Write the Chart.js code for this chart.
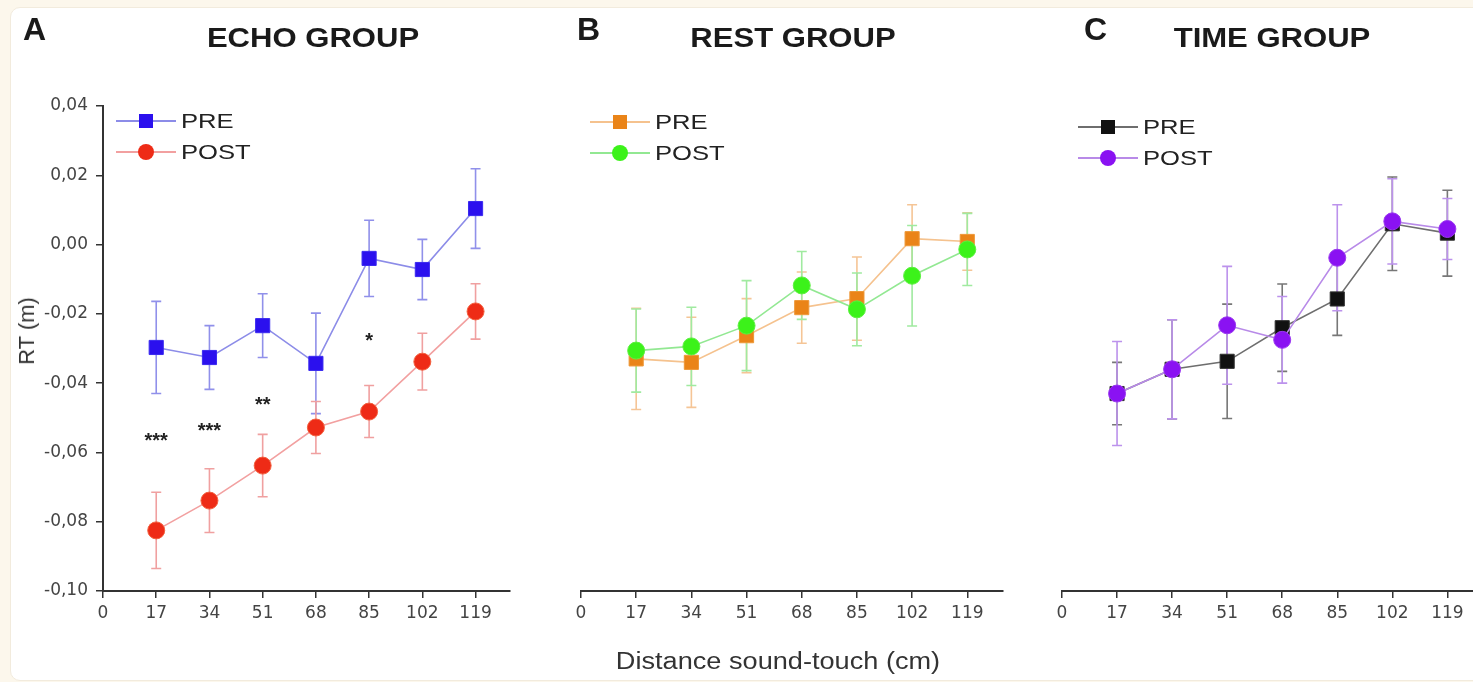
<!DOCTYPE html>
<html>
<head>
<meta charset="utf-8">
<script src="https://cdn.jsdelivr.net/npm/chart.js@4.4.1/dist/chart.umd.min.js"></script>
<style>
  html,body{margin:0;padding:0;width:1473px;height:682px;overflow:hidden;background:#fcf7ec;}
  #panel{position:absolute;left:10px;top:7px;width:1480px;height:672px;background:#fff;border:1px solid #f2ebdd;border-radius:10px;}
  canvas{position:absolute;top:0;}
  .txt{position:absolute;font-family:"Liberation Sans",Arial,sans-serif;color:#1a1a1a;white-space:nowrap;}
  .letter{font-weight:bold;font-size:32px;transform:translateY(-50%);}
  .title{font-weight:bold;font-size:27px;transform:translate(-50%,-50%) scaleX(1.15);}
  .xtitle{font-size:23px;color:#333;transform:translate(-50%,-50%) scaleX(1.18);}
  .ytitle{font-size:22px;color:#333;transform:translate(-50%,-50%) rotate(-90deg);}
  .leg{position:absolute;height:24px;}
  .leg .ln{position:absolute;left:0;width:60px;top:11px;height:1.5px;}
  .leg .mk{position:absolute;}
  .leg .lt{position:absolute;left:65px;top:50%;transform:translateY(-50%) scaleX(1.22);transform-origin:left center;font-family:"Liberation Sans",Arial,sans-serif;font-size:21px;color:#222;}
</style>
</head>
<body>
<div id="panel"></div>
<canvas id="cA" width="540" height="682" style="left:0px"></canvas>
<canvas id="cB" width="480" height="682" style="left:540px"></canvas>
<canvas id="cC" width="480" height="682" style="left:1020px"></canvas>

<div class="txt letter" style="left:23px;top:29px">A</div>
<div class="txt title" style="left:313px;top:38px">ECHO GROUP</div>
<div class="txt letter" style="left:577px;top:29px">B</div>
<div class="txt title" style="left:793px;top:38px">REST GROUP</div>
<div class="txt letter" style="left:1084px;top:29px">C</div>
<div class="txt title" style="left:1272px;top:38px">TIME GROUP</div>
<div class="txt ytitle" style="left:27px;top:331px">RT (m)</div>
<div class="txt xtitle" style="left:778px;top:661px">Distance sound-touch (cm)</div>
<div id="legends"></div>

<script>
// ---------- DATA ----------
const distances = [17, 34, 51, 68, 85, 102, 119];
const xTickStep = 17;
const seriesNames = ['PRE', 'POST'];

const echoPre      = [-0.0297, -0.0326, -0.0234, -0.0343, -0.0040, -0.0072, 0.0104];
const echoPreErr   = [0.0133, 0.0092, 0.0092, 0.0145, 0.0110, 0.0087, 0.0115];
const echoPost     = [-0.0825, -0.0739, -0.0638, -0.0528, -0.0482, -0.0338, -0.0193];
const echoPostErr  = [0.0110, 0.0092, 0.0090, 0.0075, 0.0075, 0.0082, 0.0080];

const restPre      = [-0.0330, -0.0340, -0.0263, -0.0182, -0.0156, 0.0017, 0.0009];
const restPreErr   = [0.0146, 0.0130, 0.0107, 0.0103, 0.0120, 0.0098, 0.0083];
const restPost     = [-0.0306, -0.0294, -0.0234, -0.0118, -0.0187, -0.0090, -0.0014];
const restPostErr  = [0.0120, 0.0113, 0.0130, 0.0098, 0.0105, 0.0145, 0.0104];

const timePre      = [-0.0430, -0.0360, -0.0337, -0.0240, -0.0157, 0.0060, 0.0033];
const timePreErr   = [0.0090, 0.0143, 0.0165, 0.0126, 0.0105, 0.0135, 0.0124];
const timePost     = [-0.0430, -0.0360, -0.0233, -0.0275, -0.0038, 0.0067, 0.0045];
const timePostErr  = [0.0150, 0.0143, 0.0170, 0.0125, 0.0153, 0.0123, 0.0088];

const echoStarX    = [17, 34, 51, 85];
const echoStarY    = [-0.0551, -0.0520, -0.0447, -0.0260];
const echoStarText = ['***', '***', '**', '*'];

const yMin = -0.10, yMax = 0.04, yStep = 0.02;
const xMin = 0, xMax = 130;

// ---------- HELPERS ----------
const pts = (vals) => distances.map((x, i) => ({x: x, y: vals[i]}));

const errorBars = {
  id: 'errorBars',
  beforeDatasetsDraw(chart) {
    const ctx = chart.ctx, xs = chart.scales.x, ys = chart.scales.y;
    chart.data.datasets.forEach(ds => {
      ctx.save();
      ctx.strokeStyle = ds.errColor;
      ctx.lineWidth = 1.6;
      ds.data.forEach((p, i) => {
        const e = ds.errors[i];
        const x = xs.getPixelForValue(p.x);
        const y1 = ys.getPixelForValue(p.y + e), y2 = ys.getPixelForValue(p.y - e);
        ctx.beginPath();
        ctx.moveTo(x, y1); ctx.lineTo(x, y2);
        ctx.moveTo(x - 5, y1); ctx.lineTo(x + 5, y1);
        ctx.moveTo(x - 5, y2); ctx.lineTo(x + 5, y2);
        ctx.stroke();
      });
      ctx.restore();
    });
  }
};

const starsPlugin = {
  id: 'stars',
  afterDatasetsDraw(chart, args, opts) {
    if (!opts || !opts.xs) return;
    const ctx = chart.ctx, xs = chart.scales.x, ys = chart.scales.y;
    ctx.save();
    ctx.fillStyle = '#222';
    ctx.font = 'bold 20px "Liberation Sans", Arial, sans-serif';
    ctx.textAlign = 'center';
    ctx.textBaseline = 'alphabetic';
    opts.xs.forEach((xv, i) => {
      ctx.fillText(opts.texts[i], xs.getPixelForValue(xv), ys.getPixelForValue(opts.ys[i]) + 12);
    });
    ctx.restore();
  }
};

function ds(label, vals, errs, style, order) {
  return {
    label: label,
    data: pts(vals),
    errors: errs,
    errColor: style.err,
    showLine: true,
    borderColor: style.line,
    borderWidth: 1.6,
    pointStyle: style.shape,
    pointRadius: style.shape === 'rect' ? 10 : 8.5,
    pointHoverRadius: style.shape === 'rect' ? 10 : 8.5,
    pointBackgroundColor: style.fill,
    pointBorderColor: style.edge,
    pointBorderWidth: 1,
    tension: 0,
    order: order
  };
}

function makeChart(id, datasets, padLeft, padRight, showY, stars) {
  return new Chart(document.getElementById(id), {
    type: 'scatter',
    data: { datasets: datasets },
    plugins: [errorBars, starsPlugin],
    options: {
      responsive: false,
      animation: false,
      layout: { padding: { left: padLeft, right: padRight, top: 106, bottom: 0 } },
      plugins: { legend: { display: false }, tooltip: { enabled: false }, stars: stars || {} },
      scales: {
        x: {
          type: 'linear', min: xMin, max: xMax,
          afterFit: s => { s.height = 91; },
          ticks: {
            stepSize: xTickStep, includeBounds: false, autoSkip: false, maxRotation: 0, padding: 5,
            color: '#444', font: { family: '"DejaVu Sans", sans-serif', size: 17 }
          },
          grid: { display: true, drawOnChartArea: false, drawTicks: true, tickLength: 7, color: '#333', lineWidth: 1.5 },
          border: { display: true, color: '#333', width: 2 }
        },
        y: {
          type: 'linear', min: yMin, max: yMax, display: showY,
          afterFit: s => { s.width = showY ? 103 : 0; },
          ticks: {
            stepSize: yStep, padding: 8, color: '#444',
            font: { family: '"DejaVu Sans", sans-serif', size: 17 },
            callback: v => (Math.abs(v) < 1e-9 ? '0,00' : v.toFixed(2).replace('.', ','))
          },
          grid: { display: true, drawOnChartArea: false, drawTicks: true, tickLength: 7, color: '#333', lineWidth: 1.5 },
          border: { display: true, color: '#333', width: 2 }
        }
      }
    }
  });
}

// ---------- STYLES ----------
const S = {
  echoPre:  { shape: 'rect',   fill: '#2b10ee', edge: '#3a2af0', line: '#8c8ce8', err: '#9090ea' },
  echoPost: { shape: 'circle', fill: '#ee2b16', edge: '#f2603f', line: '#f2a0a0', err: '#f0a0a0' },
  restPre:  { shape: 'rect',   fill: '#ea8418', edge: '#ee9838', line: '#f5c28e', err: '#f5c596' },
  restPost: { shape: 'circle', fill: '#3cf21a', edge: '#5cf040', line: '#92e892', err: '#a0eaa0' },
  timePre:  { shape: 'rect',   fill: '#111111', edge: '#333333', line: '#6e6e6e', err: '#777777' },
  timePost: { shape: 'circle', fill: '#8a12f2', edge: '#9a38f0', line: '#b88ae8', err: '#bc92ec' }
};

makeChart('cA', [
  ds(seriesNames[0], echoPre, echoPreErr, S.echoPre, 2),
  ds(seriesNames[1], echoPost, echoPostErr, S.echoPost, 1)
], 0, 30, true, { xs: echoStarX, ys: echoStarY, texts: echoStarText });

makeChart('cB', [
  ds(seriesNames[0], restPre, restPreErr, S.restPre, 2),
  ds(seriesNames[1], restPost, restPostErr, S.restPost, 1)
], 41, 17, false);

makeChart('cC', [
  ds(seriesNames[0], timePre, timePreErr, S.timePre, 2),
  ds(seriesNames[1], timePost, timePostErr, S.timePost, 1)
], 42, 17, false);

// ---------- LEGENDS (HTML text) ----------
function legendRow(left, cy, label, st) {
  const row = document.createElement('div');
  row.className = 'leg';
  row.style.left = left + 'px';
  row.style.top = (cy - 12) + 'px';
  const ln = document.createElement('div');
  ln.className = 'ln'; ln.style.background = st.line;
  const mk = document.createElement('div');
  mk.className = 'mk';
  if (st.shape === 'rect') {
    mk.style.cssText = `left:23px;top:5px;width:14px;height:14px;background:${st.fill};`;
  } else {
    mk.style.cssText = `left:22px;top:4px;width:16px;height:16px;border-radius:50%;background:${st.fill};`;
  }
  const lt = document.createElement('div');
  lt.className = 'lt'; lt.textContent = label;
  row.appendChild(ln); row.appendChild(mk); row.appendChild(lt);
  document.getElementById('legends').appendChild(row);
}
legendRow(116, 121, seriesNames[0], S.echoPre);
legendRow(116, 152, seriesNames[1], S.echoPost);
legendRow(590, 122, seriesNames[0], S.restPre);
legendRow(590, 153, seriesNames[1], S.restPost);
legendRow(1078, 127, seriesNames[0], S.timePre);
legendRow(1078, 158, seriesNames[1], S.timePost);
</script>
</body>
</html>
